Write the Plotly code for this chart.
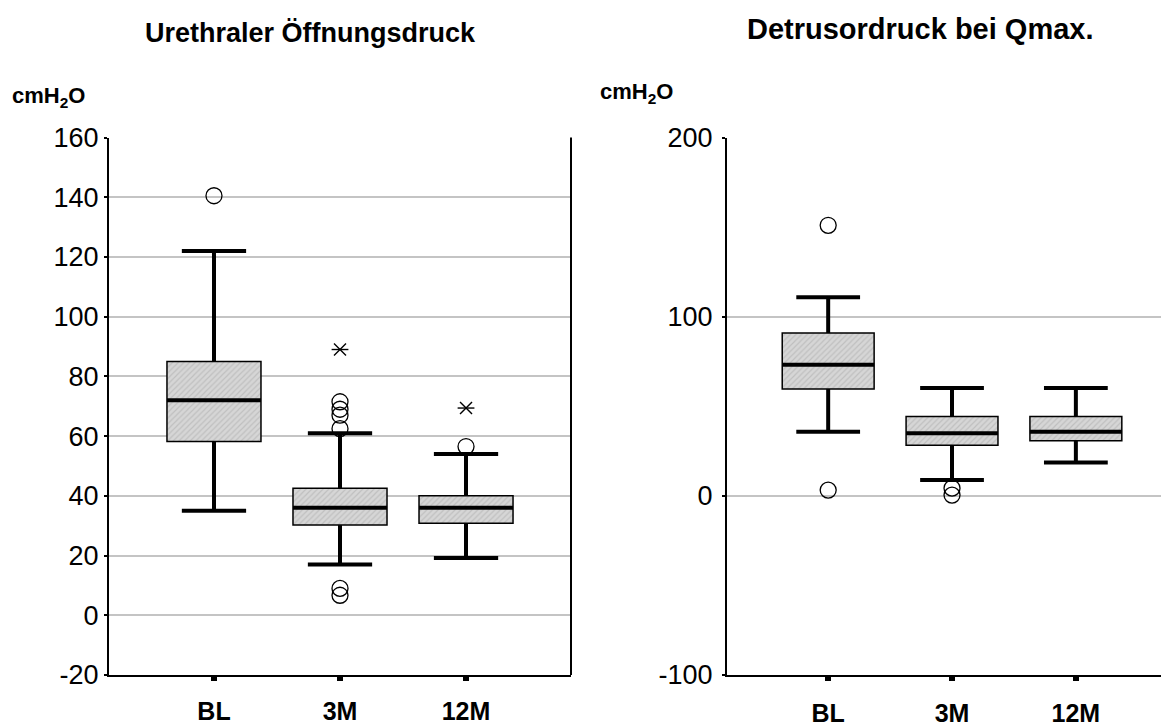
import plotly.graph_objects as go

# ---------------- data ----------------
categories = ["BL", "3M", "12M"]

# Panel 1: Urethraler Öffnungsdruck (cmH2O)
uo_q1 = [58.2, 30.2, 30.8]
uo_median = [72.0, 36.0, 36.0]
uo_q3 = [85.0, 42.5, 40.0]
uo_whisk_lo = [35.0, 17.0, 19.2]
uo_whisk_hi = [122.0, 61.0, 54.0]
uo_out_cat = ["BL", "3M", "3M", "3M", "3M", "3M", "3M", "12M"]
uo_out_val = [140.5, 71.5, 69.0, 67.0, 62.5, 9.0, 6.7, 56.5]
uo_ext_cat = ["3M", "12M"]
uo_ext_val = [89.0, 69.4]
uo_ticks = [-20, 0, 20, 40, 60, 80, 100, 120, 140, 160]

# Panel 2: Detrusordruck bei Qmax. (cmH2O)
dd_q1 = [59.6, 28.3, 30.7]
dd_median = [73.2, 35.0, 35.8]
dd_q3 = [90.9, 44.3, 44.3]
dd_whisk_lo = [35.8, 8.8, 18.6]
dd_whisk_hi = [110.8, 60.2, 60.2]
dd_out_cat = ["BL", "BL", "3M", "3M"]
dd_out_val = [151.0, 3.2, 4.3, 0.4]
dd_ext_cat = []
dd_ext_val = []
dd_ticks = [-100, 0, 100, 200]

FONT = "Liberation Sans, Arial, sans-serif"
W, H = 1161, 718   # page has an 8px body margin inside the 1169x726 window
OFF = 8

fig = go.Figure()


def add_panel(xa, ya, q1, med, q3, lo, hi, out_cat, out_val, ext_cat, ext_val, box_w, cap_w):
    pos = list(range(len(categories)))
    idx = {c: i for i, c in enumerate(categories)}
    # boxes (hatched)
    fig.add_trace(go.Bar(
        x=pos, y=[b - a for a, b in zip(q1, q3)], base=q1, width=box_w,
        marker=dict(color="#d6d6d6",
                    pattern=dict(shape="/", fgcolor="#a8a8a8", bgcolor="#d6d6d6", size=4, solidity=0.3),
                    line=dict(color="black", width=1.5)),
        xaxis=xa, yaxis=ya, showlegend=False, hoverinfo="skip"))
    # whiskers + caps
    wx, wy = [], []
    for i in pos:
        wx += [i, i, None, i, i, None]
        wy += [q3[i], hi[i], None, q1[i], lo[i], None]
        wx += [i - cap_w / 2, i + cap_w / 2, None, i - cap_w / 2, i + cap_w / 2, None]
        wy += [hi[i], hi[i], None, lo[i], lo[i], None]
    fig.add_trace(go.Scatter(x=wx, y=wy, mode="lines", line=dict(color="black", width=4),
                             xaxis=xa, yaxis=ya, showlegend=False, hoverinfo="skip"))
    # medians
    mx, my = [], []
    for i in pos:
        mx += [i - box_w / 2, i + box_w / 2, None]
        my += [med[i], med[i], None]
    fig.add_trace(go.Scatter(x=mx, y=my, mode="lines", line=dict(color="black", width=4),
                             xaxis=xa, yaxis=ya, showlegend=False, hoverinfo="skip"))
    # outliers
    fig.add_trace(go.Scatter(x=[idx[c] for c in out_cat], y=out_val, mode="markers",
                             marker=dict(symbol="circle-open", size=16, color="black", line=dict(width=1.3)),
                             xaxis=xa, yaxis=ya, showlegend=False))
    # extremes (asterisks)
    if ext_cat:
        for sym in ["x-thin-open", "line-ew-open"]:
            fig.add_trace(go.Scatter(x=[idx[c] for c in ext_cat], y=ext_val, mode="markers",
                                     marker=dict(symbol=sym, size=12, color="black", line=dict(width=1.4, color="black")),
                                     xaxis=xa, yaxis=ya, showlegend=False))


add_panel("x", "y", uo_q1, uo_median, uo_q3, uo_whisk_lo, uo_whisk_hi,
          uo_out_cat, uo_out_val, uo_ext_cat, uo_ext_val, 0.746, 0.51)
add_panel("x2", "y2", dd_q1, dd_median, dd_q3, dd_whisk_lo, dd_whisk_hi,
          dd_out_cat, dd_out_val, dd_ext_cat, dd_ext_val, 0.742, 0.515)


def px_x(x):
    return (x - OFF) / W


def px_y(y):
    return 1 - (y - OFF) / H


ydom = [px_y(675), px_y(137.5)]
common_x = dict(tickvals=[0, 1, 2], ticks="outside", ticklen=4, tickwidth=6, tickcolor="black",
                showline=True, linecolor="black", linewidth=2, showgrid=False, zeroline=False,
                fixedrange=True, automargin=False)
common_y = dict(ticks="outside", ticklen=3, tickwidth=2, tickcolor="black",
                showline=True, linecolor="black", linewidth=2, showgrid=True,
                gridcolor="#c4c4c4", gridwidth=1.5, zeroline=False, automargin=False,
                tickfont=dict(size=27, color="black", family=FONT))

fig.update_layout(
    width=W, height=H,
    margin=dict(l=0, r=0, t=0, b=0, autoexpand=False),
    paper_bgcolor="white", plot_bgcolor="white",
    font=dict(family=FONT, color="black"),
    showlegend=False,
    xaxis=dict(domain=[px_x(109), px_x(571)], range=[-0.833, 2.833], anchor="y",
               ticktext=[f"<b>{c}</b>" for c in categories],
               tickfont=dict(size=25, color="black", family=FONT), ticklabelstandoff=9, **common_x),
    yaxis=dict(domain=ydom, range=[-20, 160], tickvals=uo_ticks,
               ticktext=[str(v) for v in uo_ticks], anchor="x", ticklabelstandoff=0, **common_y),
    xaxis2=dict(domain=[px_x(727), 1.0], range=[-0.817, 2.752], anchor="y2",
                ticktext=[f"<b>{c}</b>" for c in categories],
                tickfont=dict(size=25, color="black", family=FONT), ticklabelstandoff=11, **common_x),
    yaxis2=dict(domain=ydom, range=[-100, 200], tickvals=dd_ticks,
                ticktext=[str(v) for v in dd_ticks], anchor="x2",
                ticklabelstandoff=4, **common_y),
)

# right border of left panel
fig.add_shape(type="line", xref="x domain", yref="y domain", x0=1, x1=1, y0=0, y1=1,
              line=dict(color="black", width=2))

# titles and unit labels
fig.add_annotation(text="<b>Urethraler Öffnungsdruck</b>", xref="paper", yref="paper",
                   x=px_x(310), y=px_y(33), xanchor="center", yanchor="middle",
                   showarrow=False, font=dict(size=27, color="black", family=FONT))
fig.add_annotation(text="<b>Detrusordruck bei Qmax.</b>", xref="paper", yref="paper",
                   x=px_x(920), y=px_y(29), xanchor="center", yanchor="middle",
                   showarrow=False, font=dict(size=29, color="black", family=FONT))
fig.add_annotation(text="<b>cmH<sub>2</sub>O</b>", xref="paper", yref="paper",
                   x=px_x(10), y=px_y(97), xanchor="left", yanchor="middle",
                   showarrow=False, font=dict(size=22, color="black", family=FONT))
fig.add_annotation(text="<b>cmH<sub>2</sub>O</b>", xref="paper", yref="paper",
                   x=px_x(598), y=px_y(93), xanchor="left", yanchor="middle",
                   showarrow=False, font=dict(size=22, color="black", family=FONT))

fig.write_html("out.html")
